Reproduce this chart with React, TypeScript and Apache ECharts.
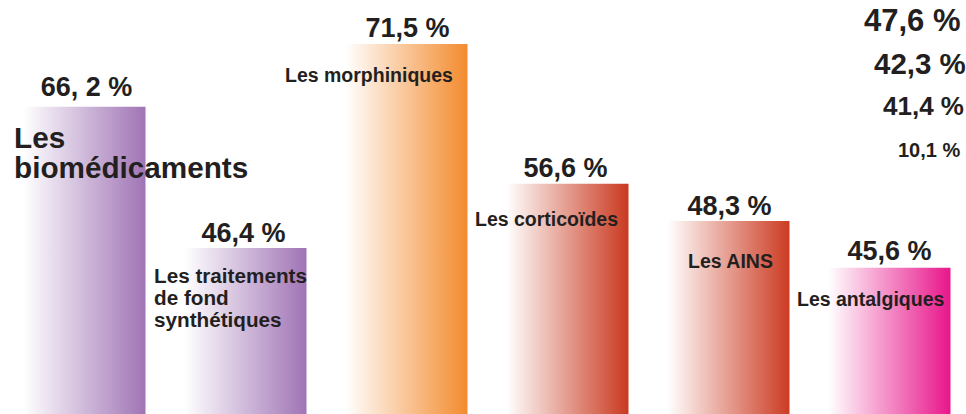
import React, { useEffect, useRef } from "react";
import * as echarts from "echarts";

// ---- data ----
const categories = [
  "Les\nbiomédicaments",
  "Les traitements\nde fond\nsynthétiques",
  "Les morphiniques",
  "Les corticoïdes",
  "Les AINS",
  "Les antalgiques",
];
const valueLabels = ["66, 2 %", "46,4 %", "71,5 %", "56,6 %", "48,3 %", "45,6 %"];
// visual bar heights (percent of plot height)
const barHeights = [74.2, 40.1, 89.4, 55.6, 46.6, 35.3];
const sideValues = ["47,6 %", "42,3 %", "41,4 %", "10,1 %"];

// ---- styles / layout ----
const barColors = ["#a074b5", "#a074b5", "#f38b2e", "#c9391f", "#cc3b22", "#e8168b"];
const labelDistance = [6, 1, 2, 2, 2, 3];
const labelShiftX = [6, 2, 5, 2, 5, 4];
const catLayout = [
  { x: 14, y: 152, size: 29.7, lh: 30 },
  { x: 154, y: 297, size: 20.7, lh: 22 },
  { x: 285, y: 75, size: 19.5, lh: 22 },
  { x: 475, y: 219, size: 19.5, lh: 22 },
  { x: 688, y: 261, size: 19.5, lh: 22 },
  { x: 797, y: 299, size: 19.5, lh: 22 },
];
const sideLayout = [
  { x: 864, y: 20, size: 31 },
  { x: 874, y: 63, size: 29.5 },
  { x: 883, y: 106, size: 26 },
  { x: 898, y: 150, size: 20 },
];
const FONT = "'Liberation Sans', Arial, Helvetica, sans-serif";
const INK = "#231f20";

export default function App() {
  const ref = useRef<HTMLDivElement>(null);
  useEffect(() => {
    if (!ref.current) return;
    const chart = echarts.init(ref.current, undefined, { renderer: "svg" });
    const graphics: any[] = [];
    categories.forEach((c, i) => {
      const l = catLayout[i];
      graphics.push({
        type: "text",
        x: l.x,
        y: l.y,
        z: 10,
        style: {
          text: c,
          fontFamily: FONT,
          fontWeight: "bold",
          fontSize: l.size,
          lineHeight: l.lh,
          fill: INK,
          align: "left",
          verticalAlign: "middle",
        },
      });
    });
    sideValues.forEach((t, i) => {
      const l = sideLayout[i];
      graphics.push({
        type: "text",
        x: l.x,
        y: l.y,
        style: {
          text: t,
          fontFamily: FONT,
          fontWeight: "bold",
          fontSize: l.size,
          fill: INK,
          align: "left",
          verticalAlign: "middle",
        },
      });
    });
    chart.setOption({
      animation: false,
      grid: { left: -3.5, right: -2, top: 0, bottom: 0, containLabel: false },
      xAxis: {
        type: "category",
        data: categories,
        show: false,
      },
      yAxis: { type: "value", min: 0, max: 100, show: false },
      series: [
        {
          type: "bar",
          barWidth: 130,
          data: barHeights.map((h, i) => ({
            value: h,
            itemStyle: {
              color: {
                type: "linear",
                x: 0,
                y: 0,
                x2: 1,
                y2: 0,
                colorStops: [
                  { offset: 0, color: "#ffffff" },
                  { offset: 0.06, color: "#ffffff" },
                  { offset: 1, color: barColors[i] },
                ],
              },
            },
            label: {
              show: true,
              position: "top",
              distance: labelDistance[i],
              offset: [labelShiftX[i], 0],
              formatter: () => valueLabels[i],
              fontFamily: FONT,
              fontWeight: "bold",
              fontSize: 27,
              color: INK,
            },
          })),
        },
      ],
      graphic: graphics,
    });
    return () => chart.dispose();
  }, []);
  return (
    <div
      ref={ref}
      style={{ position: "absolute", left: 0, top: 0, width: 966, height: 414, background: "#fff" }}
    />
  );
}
